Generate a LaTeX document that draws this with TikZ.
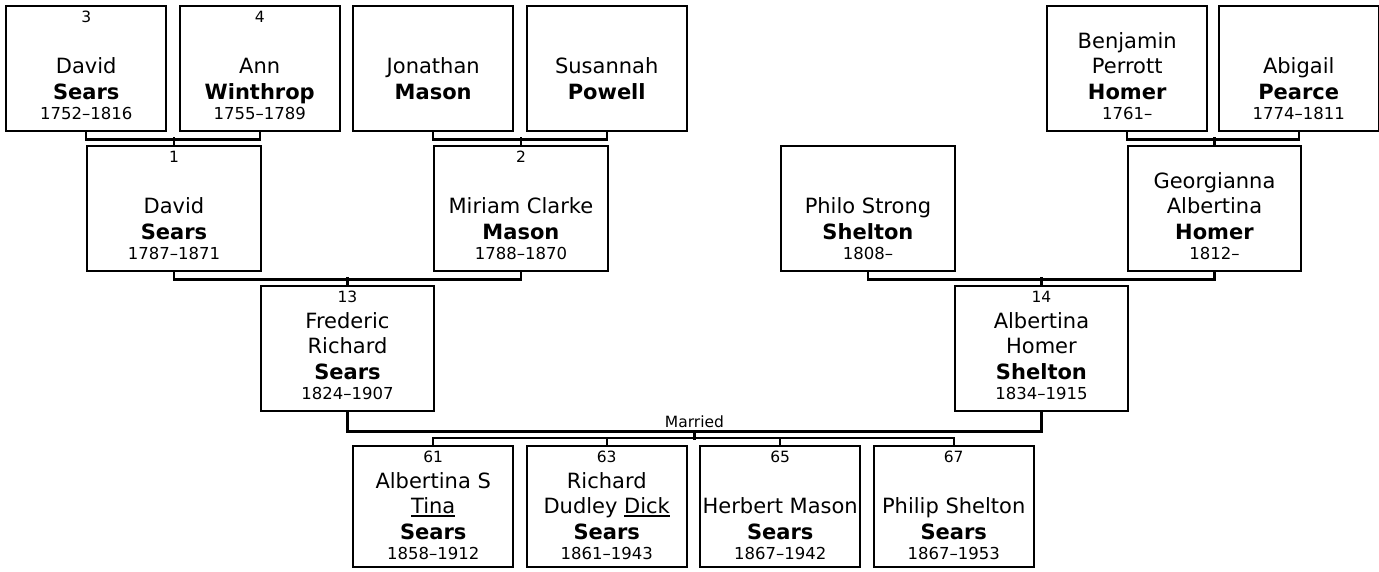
\documentclass[tikz,border=0pt]{standalone}
\usepackage{fontspec}
\setmainfont{DejaVu Sans}
\usetikzlibrary{calc}
\newcommand\myul[1]{\setbox0\hbox{#1}\rlap{\rule[-3.5pt]{\wd0}{1.6pt}}\box0}
\tikzset{
  pbox/.style={draw=black, line width=2.4pt, inner sep=0pt, anchor=north west, fill=white},
  conn/.style={draw=black, line width=2.4pt},
  txt/.style={anchor=base, inner sep=0pt, text=black},
  numtxt/.style={txt, font=\fontsize{15.5}{18}\selectfont},
  nametxt/.style={txt, font=\fontsize{21}{24}\selectfont},
  surtxt/.style={txt, font=\fontsize{21}{24}\selectfont\bfseries},
  yeartxt/.style={txt, font=\fontsize{16.5}{19}\selectfont},
  marrtxt/.style={txt, font=\fontsize{15.5}{18}\selectfont},
}
% #1 id, #2 (x,y) top-left, #3 width, #4 height, #5 number, #6 line a, #7 line b, #8 surname, #9 years
\newcommand\pbox[9]{%
  \node[pbox, minimum width=#3pt, minimum height=#4pt] (#1) at #2 {};
  \node[numtxt] (#1-n) at ([yshift=-17.5pt]#1.north) {#5};
  \node[nametxt] (#1-a) at ([yshift=-43pt]#1.north) {#6};
  \node[nametxt] (#1-b) at ([yshift=-68.5pt]#1.north) {#7};
  \node[surtxt] (#1-s) at ([yshift=-94pt]#1.north) {#8};
  \node[yeartxt] (#1-y) at ([yshift=-114.5pt]#1.north) {#9};
}
\begin{document}
\begin{tikzpicture}[x=1pt, y=-1pt]
\useasboundingbox (0,0) rectangle (1379,571);
% row 1
\pbox{b3}{(5,5)}{160}{125}{3}{}{David}{Sears}{1752–1816}
\pbox{b4}{(178.5,5)}{160}{125}{4}{}{Ann}{Winthrop}{1755–1789}
\pbox{bJ}{(352,5)}{160}{125}{}{}{Jonathan}{Mason}{}
\pbox{bS}{(525.5,5)}{160}{125}{}{}{Susannah}{Powell}{}
\pbox{bB}{(1046,5)}{160}{125}{}{Benjamin}{Perrott}{Homer}{1761–}
\pbox{bA}{(1217.5,5)}{160}{125}{}{}{Abigail}{Pearce}{1774–1811}
% row 2
\pbox{b1}{(86,145)}{173.5}{125}{1}{}{David}{Sears}{1787–1871}
\pbox{b2}{(433,145)}{173.5}{125}{2}{}{Miriam Clarke}{Mason}{1788–1870}
\pbox{bP}{(780,145)}{173.5}{125}{}{}{Philo Strong}{Shelton}{1808–}
\pbox{bG}{(1126.5,145)}{173.5}{125}{}{Georgianna}{Albertina}{Homer}{1812–}
% row 3
\pbox{b13}{(259.5,285)}{173.5}{125}{13}{Frederic}{Richard}{Sears}{1824–1907}
\pbox{b14}{(953.5,285)}{173.5}{125}{14}{Albertina}{Homer}{Shelton}{1834–1915}
% row 4
\pbox{c61}{(352,445)}{160}{121}{61}{Albertina S}{\myul{Tina}}{Sears}{1858–1912}
\pbox{c63}{(525.5,445)}{160}{121}{63}{Richard}{Dudley \myul{Dick}}{Sears}{1861–1943}
\pbox{c65}{(699,445)}{160}{121}{65}{}{Herbert Mason}{Sears}{1867–1942}
\pbox{c67}{(872.5,445)}{160}{121}{67}{}{Philip Shelton}{Sears}{1867–1953}
% connectors row1 -> row2
\draw[conn] (b3.south) -- ++(0,7) -| (b4.south);
\draw[conn] (b1.north) -- ++(0,-8);
\draw[conn] (bJ.south) -- ++(0,7) -| (bS.south);
\draw[conn] (b2.north) -- ++(0,-8);
\draw[conn] (bB.south) -- ++(0,7) -| (bA.south);
\draw[conn] (bG.north) -- ++(0,-8);
% row2 -> row3
\draw[conn] (b1.south) -- ++(0,7) -| (b2.south);
\draw[conn] (b13.north) -- ++(0,-8);
\draw[conn] (bP.south) -- ++(0,7) -| (bG.south);
\draw[conn] (b14.north) -- ++(0,-8);
% marriage
\draw[conn] (b13.south) -- ++(0,19) -| (b14.south);
\coordinate (marr) at ($(b13.south)!.5!(b14.south)+(0,19)$);
\node[marrtxt] (marrlabel) at ($(marr)+(0,-4)$) {Married};
\draw[conn] (marr) -- ++(0,9);
% children bracket
\draw[conn] (c61.north) -- ++(0,-7) -| (c67.north);
\draw[conn] (c63.north) -- ++(0,-7);
\draw[conn] (c65.north) -- ++(0,-7);
\end{tikzpicture}
\end{document}
